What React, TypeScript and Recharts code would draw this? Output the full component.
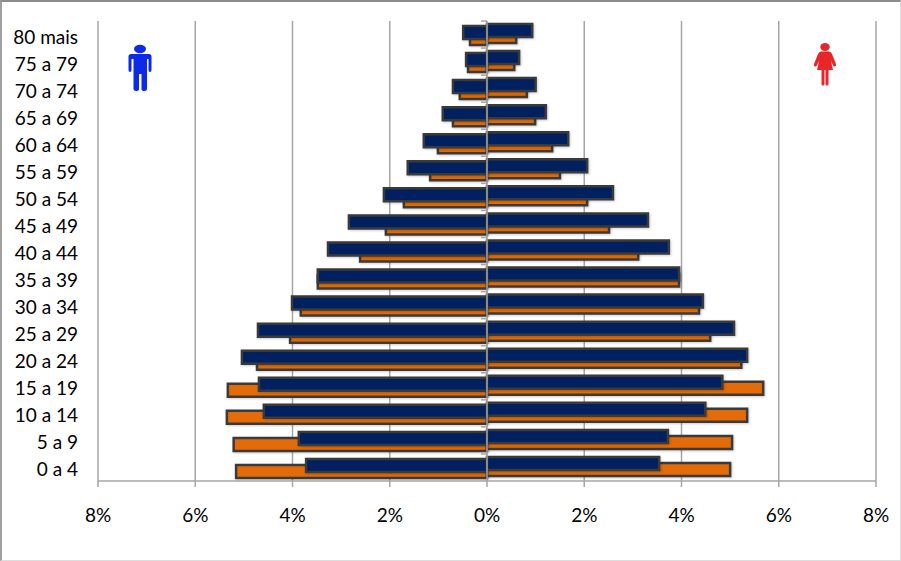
import { BarChart, Bar, XAxis, YAxis, CartesianGrid, ReferenceLine, Rectangle } from 'recharts';

const ageGroups = ['80 mais', '75 a 79', '70 a 74', '65 a 69', '60 a 64', '55 a 59', '50 a 54', '45 a 49', '40 a 44', '35 a 39', '30 a 34', '25 a 29', '20 a 24', '15 a 19', '10 a 14', '5 a 9', '0 a 4'];
const menOrange = [-0.35, -0.39, -0.56, -0.70, -1.01, -1.17, -1.71, -2.08, -2.61, -3.48, -3.83, -4.05, -4.73, -5.33, -5.35, -5.21, -5.16];
const womenOrange = [0.6, 0.56, 0.82, 0.99, 1.34, 1.5, 2.06, 2.51, 3.11, 3.95, 4.36, 4.59, 5.23, 5.68, 5.35, 5.04, 5.0];
const menBlue = [-0.49, -0.43, -0.70, -0.91, -1.30, -1.63, -2.12, -2.84, -3.27, -3.48, -4.01, -4.71, -5.04, -4.69, -4.59, -3.87, -3.72];
const womenBlue = [0.93, 0.66, 1.0, 1.21, 1.67, 2.06, 2.59, 3.31, 3.74, 3.95, 4.44, 5.08, 5.35, 4.84, 4.49, 3.72, 3.54];
const percentTicks = [-8, -6, -4, -2, 0, 2, 4, 6, 8];

const chartData = ageGroups.map((age, i) => ({
  age,
  menOrange: menOrange[i],
  womenOrange: womenOrange[i],
  menBlue: menBlue[i],
  womenBlue: womenBlue[i],
}));

const barOutline = '#3a3a3a';
const axisGray = '#a6a6a6';
const labelStyle = { fontSize: 19, fill: '#000' };
const barShadow = { filter: 'drop-shadow(1px 1px 1px rgba(0,0,0,0.2))' };

// both stacks share one slot (barGap = -barSize), each is nudged inside the band here.
// the women's side sits 2px higher than the men's in the original
const nudgedBar = (offset: number) => (props: any) => <Rectangle {...props} y={props.y + offset} style={barShadow} />;

// age label + the little tick the original has on the centre axis
function AgeTick({ y, payload }: any) {
  return (
    <g>
      <text x={78} y={y + 1.5} textAnchor="end" dominantBaseline="central" fontSize={19} fill="#000">
        {payload.value}
      </text>
      <line x1={481} x2={487} y1={y - 13.5} y2={y - 13.5} stroke={axisGray} strokeWidth={1.5} />
    </g>
  );
}

function ManIcon() {
  return (
    <svg width="26" height="48" viewBox="0 0 26 48" style={{ position: 'absolute', left: 127, top: 44 }}>
      <ellipse cx="13" cy="5" rx="6" ry="4.2" fill="#0b2be8" />
      <path d="M4 10 H22 Q24.5 10 24.5 12.5 V26 Q24.5 28 23 28 Q21.5 28 21.5 26 V15 H20 V45 Q20 47 17.5 47 Q14.5 47 14.5 45 V30 H12 V45 Q12 47 9 47 Q6.5 47 6.5 45 V15 H4.5 V26 Q4.5 28 3 28 Q1.5 28 1.5 26 V12.5 Q1.5 10 4 10 Z" fill="#0b2be8" />
    </svg>
  );
}

function WomanIcon() {
  return (
    <svg width="24" height="44" viewBox="0 0 24 44" style={{ position: 'absolute', left: 813, top: 42 }}>
      <ellipse cx="12" cy="5" rx="4.8" ry="4" fill="#e8262a" />
      <path d="M8 9.5 H16 Q18 9.5 19 12 L23 22 Q23.5 24 22 24.5 Q20.5 25 20 23 L18 19 L20 28 H15.5 V42 Q15.5 43.5 14 43.5 Q12.5 43.5 12.5 42 V28 H11.5 V42 Q11.5 43.5 10 43.5 Q8.5 43.5 8.5 42 V28 H4 L6 19 L4 23 Q3.5 25 2 24.5 Q0.5 24 1 22 L5 12 Q6 9.5 8 9.5 Z" fill="#e8262a" />
    </svg>
  );
}

export default function App() {
  return (
    <div style={{ position: 'absolute', left: 0, top: 0, width: 901, height: 561, background: '#fff', fontFamily: 'Lato, sans-serif', overflow: 'hidden' }}>
      <BarChart
        width={901}
        height={561}
        data={chartData}
        layout="vertical"
        stackOffset="sign"
        barSize={13}
        barGap={-13}
        barCategoryGap={0}
        margin={{ top: 21, right: 25, bottom: 0, left: 0 }}
      >
        <CartesianGrid horizontal={false} stroke={axisGray} strokeWidth={1.5} />
        <XAxis
          type="number"
          domain={[-8, 8]}
          ticks={percentTicks}
          tickFormatter={(v: number) => `${Math.abs(v)}%`}
          height={80}
          tick={labelStyle}
          tickLine={{ stroke: axisGray, strokeWidth: 1.5 }}
          axisLine={{ stroke: axisGray, strokeWidth: 1.5 }}
          tickSize={6}
          tickMargin={22}
          interval={0}
        />
        <YAxis
          type="category"
          dataKey="age"
          width={98}
          tick={<AgeTick />}
          tickLine={false}
          axisLine={false}
          interval={0}
        />
        <Bar dataKey="menOrange" stackId="orange" fill="#e36c09" stroke={barOutline} strokeWidth={2.5} shape={nudgedBar(4)} isAnimationActive={false} />
        <Bar dataKey="womenOrange" stackId="orange" fill="#e36c09" stroke={barOutline} strokeWidth={2.5} shape={nudgedBar(2)} isAnimationActive={false} />
        <Bar dataKey="menBlue" stackId="blue" fill="#002060" stroke={barOutline} strokeWidth={2.5} shape={nudgedBar(-2)} isAnimationActive={false} />
        <Bar dataKey="womenBlue" stackId="blue" fill="#002060" stroke={barOutline} strokeWidth={2.5} shape={nudgedBar(-4)} isAnimationActive={false} />
        <ReferenceLine x={0} stroke={axisGray} strokeWidth={1.5} />
      </BarChart>
      <ManIcon />
      <WomanIcon />
      {/* frame of the pasted picture: dark top/left, faint bottom/right */}
      <div style={{ position: 'absolute', inset: 0, boxSizing: 'border-box', borderTop: '2px solid #8c8c8c', borderLeft: '2px solid #a0a0a0', borderRight: '1px solid #dddddd', borderBottom: '1px solid #dddddd', pointerEvents: 'none' }} />
    </div>
  );
}
